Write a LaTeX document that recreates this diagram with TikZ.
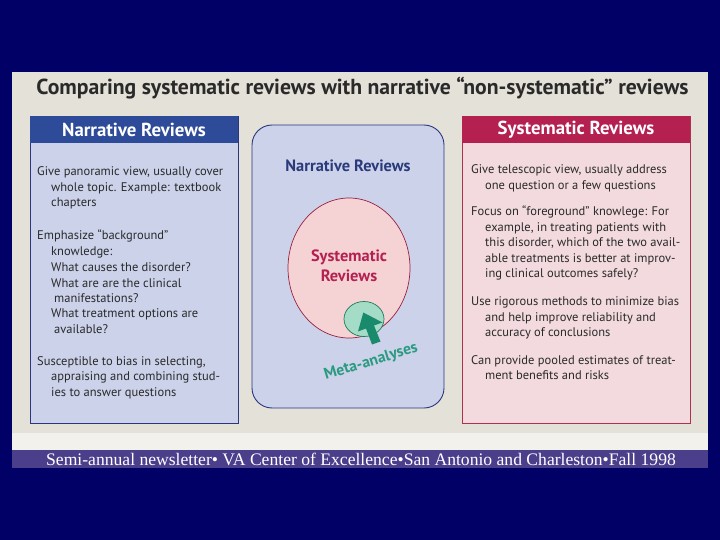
\documentclass[tikz,border=0pt]{standalone}
\usepackage{fontspec}
\setmainfont{PT Sans}
\newfontfamily\serifbanner{Liberation Serif}
\usetikzlibrary{shapes.geometric}
\definecolor{navybg}{HTML}{000066}
\definecolor{paper}{HTML}{E4E1D8}
\definecolor{whitestrip}{HTML}{F3F1EC}
\definecolor{banner}{HTML}{4B3F8C}
\definecolor{bluehead}{HTML}{2D4B98}
\definecolor{bluefill}{HTML}{CBD2EA}
\definecolor{blueline}{HTML}{2B3580}
\definecolor{redhead}{HTML}{B42050}
\definecolor{redfill}{HTML}{F2DADE}
\definecolor{redline}{HTML}{B03050}
\definecolor{circfill}{HTML}{F5D3D5}
\definecolor{circline}{HTML}{9A2040}
\definecolor{greenfill}{HTML}{A5DCC8}
\definecolor{greenline}{HTML}{1E7A5A}
\definecolor{arrowgreen}{HTML}{1A8A6C}
\definecolor{metagreen}{HTML}{2A9A80}
\definecolor{bodytext}{HTML}{2A2A2A}
\definecolor{navytext}{HTML}{2B3A7A}
\tikzset{
  body/.style={font=\fontsize{12.5}{15}\selectfont, text=bodytext, inner sep=0pt, anchor=base west},
  headtext/.style={font=\fontsize{18.8}{21}\selectfont\bfseries, text=white, inner sep=0pt},
}
\begin{document}
\begin{tikzpicture}[x=1pt,y=-1pt]
\fill[navybg] (0,0) rectangle (720,540);
\useasboundingbox (0,0) rectangle (720,540);
% paper
\fill[paper] (12,72) rectangle (708,433);
\fill[whitestrip] (12,433) rectangle (708,450);
\fill[banner] (12,450) rectangle (708,468);
% title
\node[font=\fontsize{21.7}{24}\selectfont\bfseries, text=bodytext, inner sep=0pt, anchor=base] (title) at (362.5,95) {Comparing systematic reviews with narrative “non-systematic” reviews};
% left box
\draw[blueline, fill=bluefill, line width=0.8pt] (30,116) rectangle (238,423);
\fill[bluehead] (30,116) rectangle (238,143);
\node[headtext] (lhead) at (134,129.5) {Narrative Reviews};
\node[body] (l1) at (37,176) {Give panoramic view, usually cover};
\node[body] (l2) at (51,191.5) {whole topic. Example: textbook};
\node[body] (l3) at (51,207) {chapters};
\node[body] (l4) at (37,240) {Emphasize “background”};
\node[body] (l5) at (51,255.5) {knowledge:};
\node[body] (l6) at (51,271) {What causes the disorder?};
\node[body] (l7) at (51,287) {What are are the clinical};
\node[body] (l8) at (54,302) {manifestations?};
\node[body] (l9) at (51,317.5) {What treatment options are};
\node[body] (l10) at (54,333) {available?};
\node[body] (l11) at (37,365) {Susceptible to bias in selecting,};
\node[body] (l12) at (51,380.5) {appraising and combining stud-};
\node[body] (l13) at (51,396) {ies to answer questions};
% right box
\draw[redline, fill=redfill, line width=0.8pt] (462,116) rectangle (690,423);
\fill[redhead] (462,116) rectangle (690,143);
\node[headtext] (rhead) at (576,129.5) {Systematic Reviews};
\node[body] (r1) at (471,174) {Give telescopic view, usually address};
\node[body] (r2) at (485,189.7) {one question or a few questions};
\node[body] (r3) at (471,215.7) {Focus on “foreground” knowlege: For};
\node[body] (r4) at (485,231) {example, in treating patients with};
\node[body] (r5) at (485,246.7) {this disorder, which of the two avail-};
\node[body] (r6) at (485,262) {able treatments is better at improv-};
\node[body] (r7) at (485,277.3) {ing clinical outcomes safely?};
\node[body] (r8) at (471,305.7) {Use rigorous methods to minimize bias};
\node[body] (r9) at (485,321) {and help improve reliability and};
\node[body] (r10) at (485,336) {accuracy of conclusions};
\node[body] (r11) at (471,364) {Can provide pooled estimates of treat-};
\node[body] (r12) at (485,379.7) {ment benefits and risks};
% centre panel
\draw[blueline, fill=bluefill, line width=0.9pt, rounded corners=20pt] (252,125) rectangle (444,408);
\node[font=\fontsize{16.4}{19}\selectfont\bfseries, text=navytext, inner sep=0pt] (cnarr) at (348,166) {Narrative Reviews};
\node[ellipse, draw=circline, fill=circfill, line width=0.7pt, minimum width=122pt, minimum height=140pt, inner sep=0pt] (sysc) at (349,268) {};
\node[font=\fontsize{16.4}{19.5}\selectfont\bfseries, text=redhead, align=center, inner sep=0pt] (csys) at (349,266) {Systematic\\Reviews};
\node[ellipse, draw=greenline, fill=greenfill, line width=0.7pt, minimum width=40pt, minimum height=35pt, inner sep=0pt] (metac) at (364,319) {};
\fill[arrowgreen] (363.3,312.5) -- (382.5,322.5) -- (374,325.5) -- (380.5,341.5) -- (372,344.5) -- (366,328.5) -- (358,331.5) -- cycle;
\node[font=\fontsize{15.7}{18}\selectfont\bfseries, text=metagreen, inner sep=0pt, rotate=17] (meta) at (371,362) {Meta-analyses};
% banner text
\node[font=\serifbanner\fontsize{17.6}{20}\selectfont, text=white, inner sep=0pt, anchor=base west] (foot) at (46,465) {Semi-annual newsletter• VA Center of Excellence•San Antonio and Charleston•Fall 1998};
\end{tikzpicture}
\end{document}
